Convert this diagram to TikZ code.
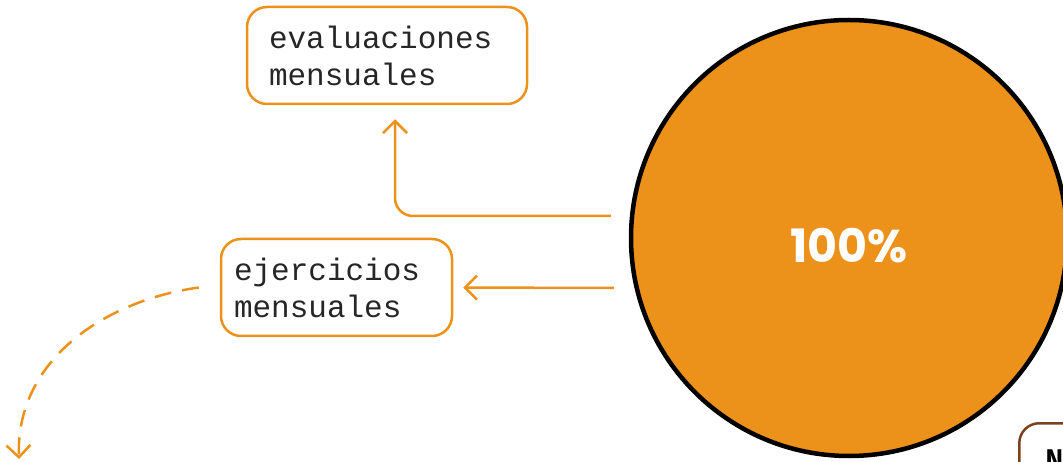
\documentclass[tikz,border=0pt]{standalone}
\usepackage{fontspec}
\setmainfont{Liberation Mono}
\newfontfamily\pctfont{Poppins}
\usetikzlibrary{arrows.meta}
\definecolor{naranja}{RGB}{236,145,25}
\definecolor{cafe}{RGB}{122,66,30}
\newcommand{\etiq}[1]{\fontsize{31}{37}\selectfont #1}

\begin{document}
\begin{tikzpicture}[
      x=1pt, y=-1pt,
      caja/.style={draw=naranja,line width=2.5pt,rounded corners=20pt,fill=white,
        align=left,text=black!85,font=\etiq{}},
      pastel/.style={circle,draw=black,line width=4.5pt,fill=naranja,minimum size=436pt},
      cifra/.style={text=white,font=\pctfont\bfseries\fontsize{46}{46}\selectfont},
      flecha/.style={naranja,line width=2.5pt,rounded corners=18pt,
        -{Straight Barb[length=12pt,width=24pt]}},
      punteada/.style={flecha,dash pattern=on 17pt off 11pt}
    ]
    \useasboundingbox (0,0) rectangle (1063,462);
    % Draw the pie and the boxes.
    \node[pastel] (todo) at (849,238) {};
    \node[cifra] (pct) at ([yshift=-8pt]todo.center) {100\%};
    \node[caja,text width=236pt,inner xsep=22pt,minimum height=97pt] (eval) at (387,55.5)
      {evaluaciones\\mensuales};
    \node[caja,text width=205pt,inner xsep=13pt,minimum height=97pt] (ejer) at (336.5,287.5)
      {ejercicios\\mensuales};
    \node[draw=cafe,line width=2.5pt,rounded corners=20pt,anchor=north west,
      align=left,text width=160pt,inner xsep=26pt,inner ysep=26pt,
      font=\fontsize{30}{34}\selectfont\bfseries] (nota) at (1018,422) {N};
    \coordinate (abajo) at (19,459);
    % Draw the connectors.
    \draw[flecha] ([shift={(-18pt,22pt)}]todo.west) -| ([shift={(8pt,-14pt)}]eval.south);
    \draw[flecha,shorten >=10pt] ([shift={(-15pt,-50pt)}]todo.west) -- (ejer.east);
    \draw[punteada] ([xshift=-21pt]ejer.west) to[out=188,in=92] (abajo);
\end{tikzpicture}
\end{document}
